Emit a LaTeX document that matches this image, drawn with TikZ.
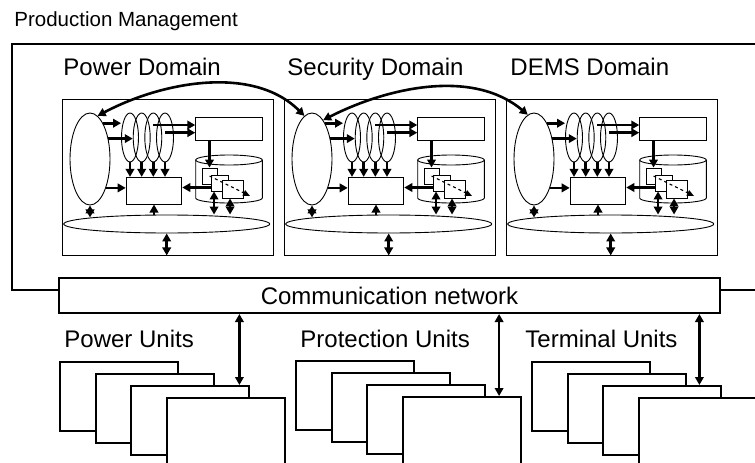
\documentclass[tikz,border=0pt]{standalone}
\usepackage{fontspec}
\setmainfont{Liberation Sans}
\usetikzlibrary{arrows.meta,shapes.geometric}

\begin{document}
\begin{tikzpicture}[x=1pt,y=-1pt,line width=0.9pt,
  arr/.style={line width=2.6pt,-{Triangle[length=8pt,width=8.5pt]}},
  darr/.style={line width=2.6pt,{Triangle[length=8pt,width=8.5pt]}-{Triangle[length=8pt,width=8.5pt]}},
  part/.style={draw,fill=white,inner sep=0pt},
  oval/.style={draw,ellipse,inner sep=0pt},
  label/.style={inner sep=0pt,anchor=base west,font=\fontsize{24}{28}\selectfont},
  unit/.style={draw,fill=white,line width=2pt,inner sep=0pt,anchor=north west,
    minimum width=118pt,minimum height=69pt}]
\useasboundingbox (0,0) rectangle (755,463);

% production management
\node[label,font=\fontsize{20.5}{24}\selectfont] (pm) at (14,26) {Production Management};
\draw[line width=2.4pt] (760,44) -- (12,44) -- (12,290) -- (760,290);

\node[label] (pdl) at (63,75) {Power Domain};
\node[label] (sdl) at (287,75) {Security Domain};
\node[label] (ddl) at (510,75) {DEMS Domain};

% the three domains
\foreach \pre/\dx in {p/0,s/222,d/444}{
\begin{scope}[shift={(\dx,0)},name prefix=\pre-]
  \node[part,minimum width=211pt,minimum height=156pt] (box) at (167.5,177) {};
  \node[oval,minimum width=40pt,minimum height=92pt] (big) at (90,159) {};
  \foreach \i/\x in {1/130,2/141.7,3/153.3,4/165}
    \node[oval,minimum width=17pt,minimum height=49pt] (e\i) at (\x,137.5) {};
  \node[part,minimum width=66.6pt,minimum height=23.4pt] (r1) at (229,129) {};
  \node[part,minimum width=55.7pt,minimum height=26.7pt] (r2) at (154,190.7) {};
  % store
  \draw (229,160) ellipse[x radius=33.3,y radius=5];
  \draw (195.7,160) -- (195.7,198) arc[start angle=180,end angle=0,x radius=33.3,y radius=5] -- (262.3,160);
  \node[part,minimum width=15pt,minimum height=16pt] (d1) at (209.5,176) {};
  \node[part,minimum width=17pt,minimum height=16pt] (d2) at (219.5,183) {};
  \node[part,minimum width=21pt,minimum height=18pt] (d3) at (232.5,189) {};
  \node[oval,minimum width=206pt,minimum height=18pt] (bot) at (166.7,224) {};

  \draw[arr] (big.70) -- (e1.west |- big.70);
  \draw[arr] (big.48) -- (e2.west |- big.48);
  \draw[arr] (big.-61) -- (r2.west |- big.-61);
  \foreach \i in {1,...,4}
    \draw[arr] (e\i.south) -- (e\i.south |- r2.north);
  \coordinate (ra) at ([yshift=4pt]r1.west);
  \coordinate (rb) at ([yshift=-3.7pt]r1.west);
  \draw[arr] (e3.center |- ra) -- (ra);
  \draw[arr] (e4.center |- rb) -- (rb);
  \draw[arr] (r1.south -| d1.north) -- (d1.north);
  \coordinate (dc) at ([yshift=-4.5pt]d2.west);
  \draw[arr] (dc) -- (r2.east |- dc);
  \coordinate (dend) at (250,196);
  \draw[line width=1.1pt,dashed,-{Triangle[length=7pt,width=6pt]}] (d1.center) -- (dend);
  \coordinate (d2b) at ([xshift=3.5pt]d2.south west);
  \coordinate (d3b) at ([xshift=8.5pt]d3.south west);
  \draw[darr] (d2b) -- (d2b |- bot.north);
  \draw[darr] (d3b) -- (d3b |- bot.north);
  \draw[darr] (big.south) -- (big.south |- bot.175);
  \draw[arr] (bot.north -| r2.south) -- (r2.south);
  \draw[darr] (bot.south) -- (bot.south |- box.south);
\end{scope}}

\draw[darr] (p-big.80) to[out=28,in=135,looseness=0.9] (s-big.100);
\draw[darr] (s-big.74) to[out=27,in=140,looseness=0.9] (d-big.98);

% network and units
\node[draw,fill=white,line width=2pt,minimum width=661pt,minimum height=35pt,
  font=\fontsize{24}{28}\selectfont] (net) at (389.5,295.5) {Communication network};

\node[label] (pwl) at (64,347) {Power Units};
\node[label] (prl) at (300,347) {Protection Units};
\node[label] (tml) at (525,347) {Terminal Units};

\foreach \g/\gx/\gy in {pw/59/361,pr/295/360,tm/531/361}
  \foreach \i in {1,...,4}
    \node[unit] (\g\i) at ({\gx+35.7*(\i-1)},{\gy+12*(\i-1)}) {};

\coordinate (pwa) at ([xshift=-11pt]pw3.north east);
\coordinate (pra) at ([xshift=-23pt]pr4.north east);
\coordinate (tma) at ([xshift=-23pt]tm3.north east);
\draw[darr] (pwa |- net.south) -- (pwa);
\draw[darr] (pra |- net.south) -- (pra);
\draw[darr] (tma |- net.south) -- (tma);
\end{tikzpicture}
\end{document}
